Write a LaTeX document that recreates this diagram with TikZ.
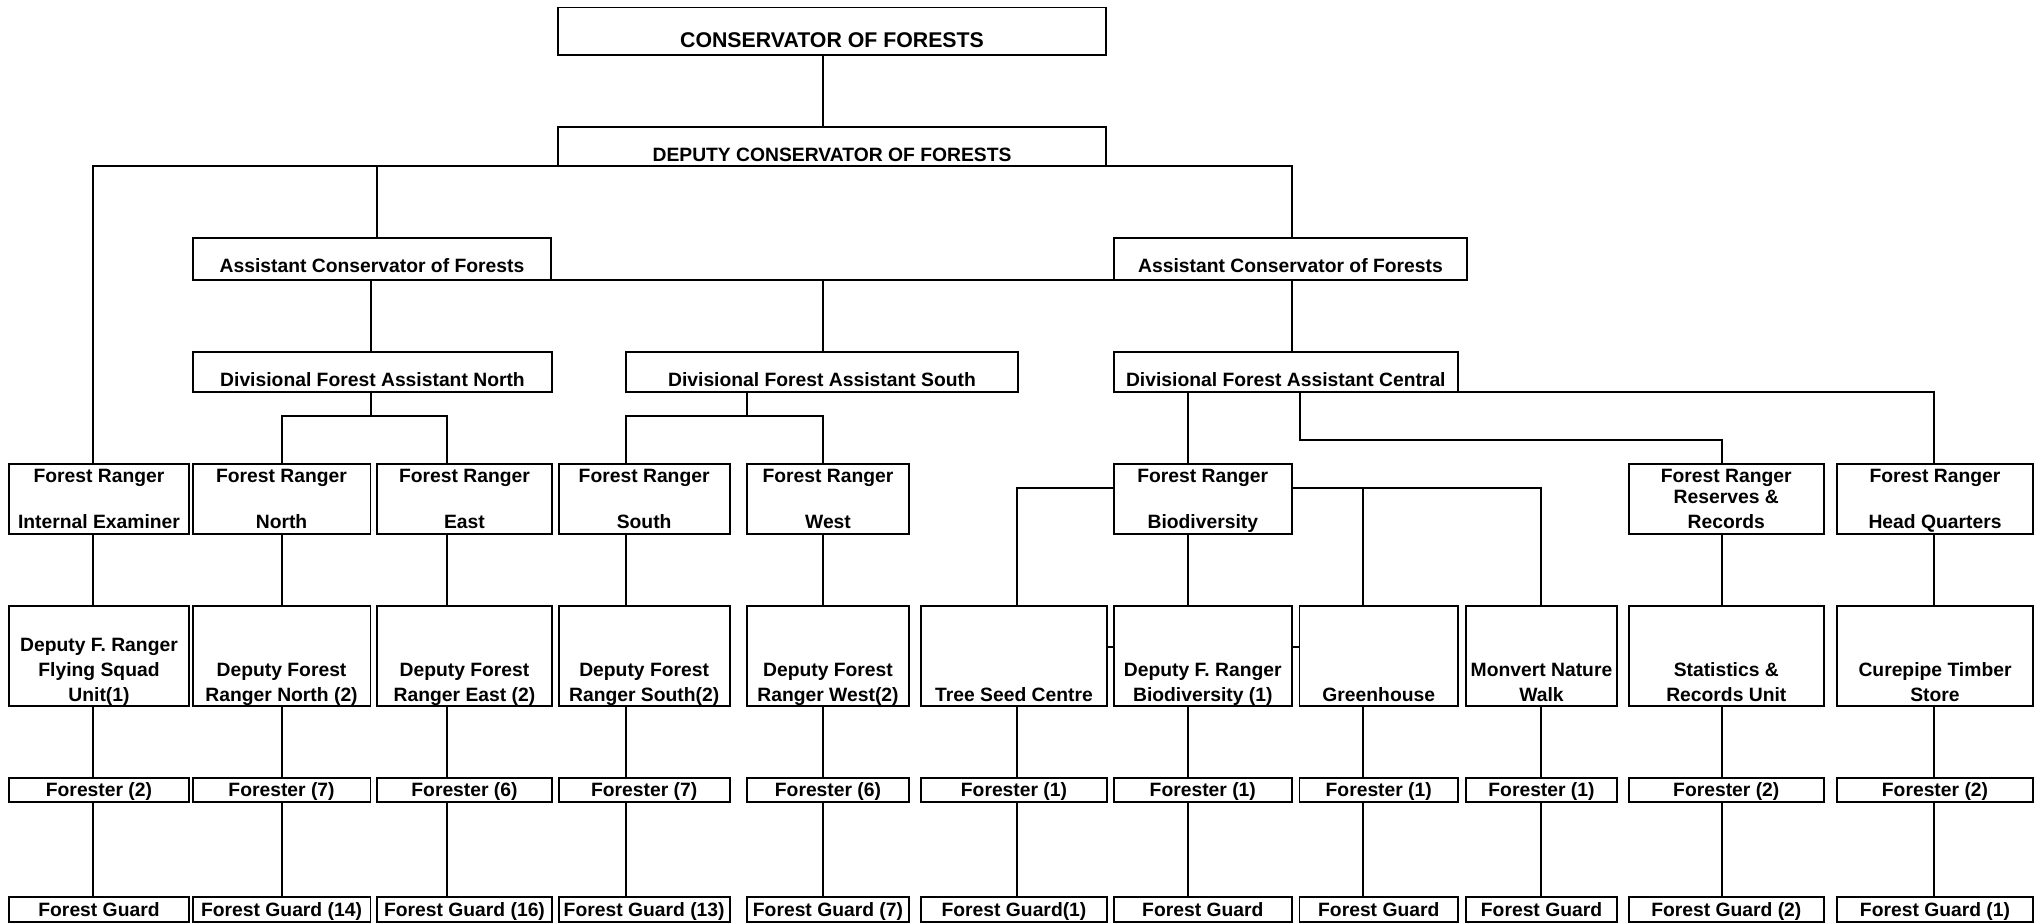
\documentclass[tikz,border=0pt]{standalone}
\usepackage{fontspec}
\setmainfont{Liberation Sans}
\tikzset{
 ubox/.style={draw, line width=0.9pt, fill=white, inner sep=0pt, outer sep=0pt, rectangle},
 utxt/.style={inner sep=0pt, align=center, anchor=base, font=\fontsize{9.65pt}{12.3pt}\selectfont\bfseries},
 ttxt/.style={font=\fontsize{10.65pt}{12.3pt}\selectfont\bfseries},
 conn/.style={line width=0.7pt},
}
% #1 text opts, #2 name, #3 x1, #4 y1, #5 x2, #6 y2, #7 baseline y of last line, #8 text
\newcommand\obox[8][]{%
  \node[ubox, minimum width={(#5-#3)*0.5pt}, minimum height={(#6-#4)*0.5pt}] (#2) at ({(#3+#5)/2},{(#4+#6)/2}) {};
  \node[utxt,#1] (#2t) at ({(#3+#5)/2},#7) {#8};}
\begin{document}
\begin{tikzpicture}[x=0.5pt,y=-0.5pt]
\useasboundingbox (0,0) rectangle (2039,924);
% column coordinates
\foreach \n/\x in {IE/93,N/282,E/447,S/626,W/823,T/1017,B/1188,G/1363,M/1541,R/1722,H/1934,AL/377,DN/371,DS/747,C/1292,Gr/1300}
  \coordinate (c\n) at (\x,0);
\coordinate (yA) at (0,416);
\coordinate (yB) at (0,440);
\coordinate (yC) at (0,488);
\coordinate (yD) at (0,647);
% top levels
\obox[ttxt]{cons}{558}{7.5}{1106}{55}{48}{CONSERVATOR OF FORESTS}
\obox{dep}{558}{127}{1106}{166}{161.5}{DEPUTY CONSERVATOR OF FORESTS}
\obox{acfL}{193}{238}{551}{280}{273}{Assistant Conservator of Forests}
\obox{acfR}{1114}{238}{1467}{280}{273}{Assistant Conservator of Forests}
\obox{dfaN}{193}{352}{552}{392}{387}{Divisional Forest Assistant North}
\obox{dfaS}{626}{352}{1018}{392}{387}{Divisional Forest Assistant South}
\obox{dfaC}{1113.6}{352}{1458}{392}{387}{Divisional Forest Assistant Central}
% forest rangers
\obox{rIE}{9}{464}{189}{534}{529}{Forest Ranger\\[10.7pt]Internal Examiner}
\obox{rN}{192.6}{464}{370.5}{534}{529}{Forest Ranger\\[10.7pt]North}
\obox{rE}{377}{464}{552}{534}{529}{Forest Ranger\\[10.7pt]East}
\obox{rS}{558.7}{464}{729.6}{534}{529}{Forest Ranger\\[10.7pt]South}
\obox{rW}{747}{464}{909}{534}{529}{Forest Ranger\\[10.7pt]West}
\obox{rB}{1113.6}{464}{1292}{534}{529}{Forest Ranger\\[10.7pt]Biodiversity}
\obox{rR}{1628.6}{464}{1824}{534}{529}{Forest Ranger\\[-2.15pt]Reserves \&\\[0.55pt]Records}
\obox{rH}{1837}{464}{2033}{534}{529}{Forest Ranger\\[10.7pt]Head Quarters}
% deputies / units
\obox{dIE}{9}{605.7}{189}{706}{701}{Deputy F. Ranger\\Flying Squad\\Unit(1)}
\obox{dN}{192.6}{605.7}{370.5}{706}{701}{Deputy Forest\\Ranger North (2)}
\obox{dE}{377}{605.7}{552}{706}{701}{Deputy Forest\\Ranger East (2)}
\obox{dS}{558.7}{605.7}{729.6}{706}{701}{Deputy Forest\\Ranger South(2)}
\obox{dW}{747}{605.7}{909}{706}{701}{Deputy Forest\\Ranger West(2)}
\obox{dT}{921}{605.7}{1107}{706}{701}{Tree Seed Centre}
\obox{dB}{1113.6}{605.7}{1292}{706}{701}{Deputy F. Ranger\\Biodiversity (1)}
\obox{dG}{1299.5}{605.7}{1458}{706}{701}{Greenhouse}
\obox{dM}{1466}{605.7}{1617}{706}{701}{Monvert Nature\\Walk}
\obox{dR}{1628.6}{605.7}{1824}{706}{701}{Statistics \&\\Records Unit}
\obox{dH}{1837}{605.7}{2033}{706}{701}{Curepipe Timber\\Store}
% foresters
\foreach \n/\a/\b/\t in {IE/9/189/Forester (2),N/192.6/370.5/Forester (7),E/377/552/Forester (6),S/558.7/729.6/Forester (7),W/747/909/Forester (6),T/921/1107/Forester (1),B/1113.6/1292/Forester (1),G/1299.5/1458/Forester (1),M/1466/1617/Forester (1),R/1628.6/1824/Forester (2),H/1837/2033/Forester (2)}
  {\obox{f\n}{\a}{777.7}{\b}{802.3}{796.5}{\t}}
% forest guards
\foreach \n/\a/\b/\t in {IE/9/189/Forest Guard,N/192.6/370.5/Forest Guard (14),E/377/552/Forest Guard (16),S/558.7/729.6/Forest Guard (13),W/747/909/Forest Guard (7),T/921/1107/Forest Guard(1),B/1113.6/1292/Forest Guard,G/1299.5/1458/Forest Guard,M/1466/1617/Forest Guard,R/1628.6/1824/Forest Guard (2),H/1837/2033/Forest Guard (1)}
  {\obox{g\n}{\a}{897.3}{\b}{922.3}{916.5}{\t}}
% connectors, top part
\draw[conn] (cons.south -| cW) -- (dep.north -| cW);
\draw[conn] (rIE.north -| cIE) -- (dep.south -| cIE) -- (dep.south -| cC) -- (acfR.north -| cC);
\draw[conn] (dep.south -| cAL) -- (acfL.north -| cAL);
\draw[conn] (acfL.south east) -- (acfR.south west);
\draw[conn] (acfL.south -| cDN) -- (dfaN.north -| cDN);
\draw[conn] (acfL.south -| cW) -- (dfaS.north -| cW);
\draw[conn] (acfR.south -| cC) -- (dfaC.north -| cC);
% DFA North
\draw[conn] (dfaN.south -| cDN) -- (cDN |- yA);
\draw[conn] (rN.north -| cN) -- (cN |- yA) -- (cE |- yA) -- (rE.north -| cE);
% DFA South
\draw[conn] (dfaS.south -| cDS) -- (cDS |- yA);
\draw[conn] (rS.north -| cS) -- (cS |- yA) -- (cW |- yA) -- (rW.north -| cW);
% DFA Central
\draw[conn] (dfaC.south -| cB) -- (rB.north -| cB);
\draw[conn] (dfaC.south -| cGr) -- (cGr |- yB) -- (cR |- yB) -- (rR.north -| cR);
\draw[conn] (dfaC.south east) -- (dfaC.south east -| cH) -- (rH.north -| cH);
% FR Biodiversity
\draw[conn] (dT.north -| cT) -- (cT |- yC) -- (rB.west |- yC);
\draw[conn] (rB.east |- yC) -- (cM |- yC) -- (dM.north -| cM);
\draw[conn] (cG |- yC) -- (dG.north -| cG);
\draw[conn] (dT.east |- yD) -- (dB.west |- yD);
\draw[conn] (dB.east |- yD) -- (dG.west |- yD);
% vertical chains
\foreach \n in {IE,N,E,S,W,B,R,H}
  \draw[conn] (r\n.south -| c\n) -- (d\n.north -| c\n);
\foreach \n in {IE,N,E,S,W,T,B,G,M,R,H}{
  \draw[conn] (d\n.south -| c\n) -- (f\n.north -| c\n);
  \draw[conn] (f\n.south -| c\n) -- (g\n.north -| c\n);
}
\end{tikzpicture}
\end{document}
